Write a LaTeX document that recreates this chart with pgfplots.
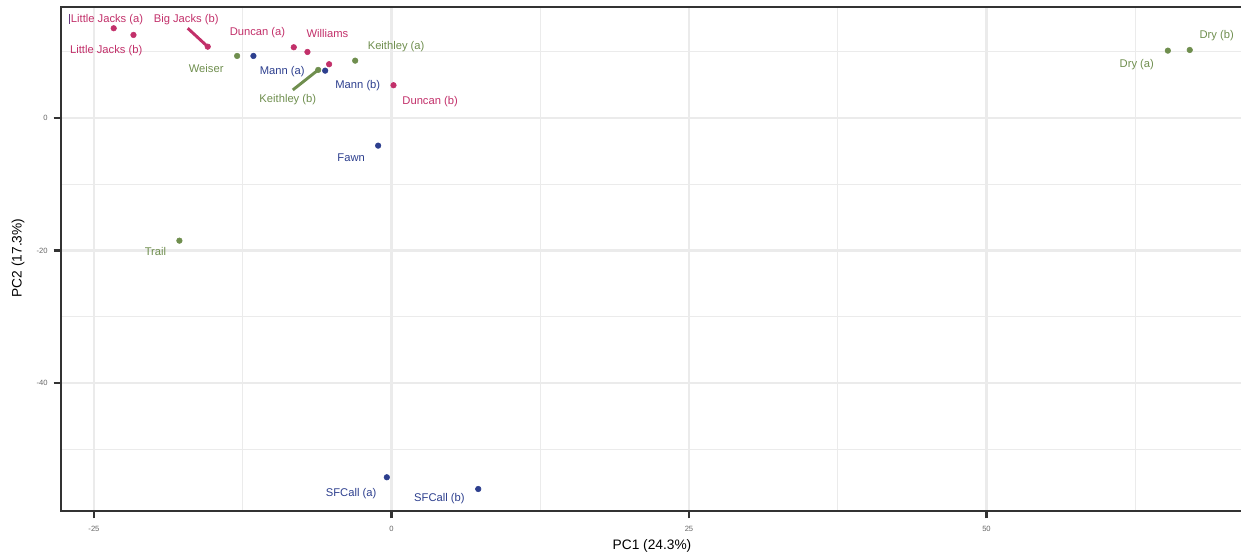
\documentclass[border=0pt]{standalone}
\usepackage{fontspec}
\setmainfont{Liberation Sans}
\usepackage{pgfplots}
\pgfplotsset{compat=1.18}

\definecolor{cRed}{HTML}{C2306A}
\definecolor{cGreen}{HTML}{6F8E4E}
\definecolor{cBlue}{HTML}{2D3F8E}
\definecolor{gridc}{HTML}{EBEBEB}
\definecolor{axc}{HTML}{333333}

\newcommand{\lab}{\fontsize{8.4}{9}\selectfont}

\begin{document}
\begin{tikzpicture}
\begin{axis}[
  at={(0,0)}, anchor=south west,
  scale only axis, width=887.25pt, height=378pt,
  xmin=-27.77, xmax=71.64, ymin=-59.32, ymax=16.75,
  clip=false,
  axis line style={draw=axc, line width=1.5pt},
  xtick={-25,0,25,50}, xticklabels={-25,0,25,50},
  ytick={-40,-20,0}, yticklabels={-40,-20,0},
  minor xtick={-12.5,12.5,37.5,62.5},
  minor ytick={-50,-30,-10,10},
  xtick pos=bottom, ytick pos=left,
  tick align=outside,
  major tick length=5.5pt, minor tick length=0pt,
  major tick style={line width=2pt, draw=axc},
  grid=both,
  major grid style={line width=2pt, draw=gridc},
  minor grid style={line width=1pt, draw=gridc},
  ticklabel style={font=\fontsize{5.7}{6}\selectfont, text=black!60},
  xticklabel style={yshift=-2pt},
  yticklabel style={xshift=-1pt},
]
% segments joining repelled labels to their points
\draw[cRed, line width=2.2pt] (axis cs:-17.12,13.54) -- (axis cs:-15.44,10.76);
\draw[cGreen, line width=2.2pt] (axis cs:-8.29,4.23) -- (axis cs:-6.16,7.25);
\draw[cBlue!60!cRed, line width=0.8pt] (axis cs:-27.06,15.7) -- (axis cs:-27.06,14.19);

% red group
\addplot[only marks, mark=*, mark size=2.1pt, color=cRed] coordinates {
  (-23.34,13.54) (-21.68,12.53) (-15.44,10.76) (-8.21,10.67)
  (-7.06,9.96) (-5.24,8.11) (0.17,4.94)
};
% green group
\addplot[only marks, mark=*, mark size=2.1pt, color=cGreen] coordinates {
  (-12.97,9.36) (-6.16,7.25) (-3.05,8.65) (-17.82,-18.52)
  (65.24,10.16) (67.08,10.26)
};
% blue group
\addplot[only marks, mark=*, mark size=2.1pt, color=cBlue] coordinates {
  (-11.60,9.36) (-5.57,7.14) (-1.12,-4.18) (-0.39,-54.23) (7.29,-56.0)
};

% point labels
\node[font=\lab, text=cRed] at (axis cs:-23.90,14.79) {Little Jacks (a)};
\node[font=\lab, text=cRed] at (axis cs:-23.97,10.11) {Little Jacks (b)};
\node[font=\lab, text=cRed] at (axis cs:-17.25,14.79) {Big Jacks (b)};
\node[font=\lab, text=cRed] at (axis cs:-11.26,12.94) {Duncan (a)};
\node[font=\lab, text=cRed] at (axis cs:-5.38,12.78) {Williams};
\node[font=\lab, text=cRed] at (axis cs:3.25,2.46) {Duncan (b)};
\node[font=\lab, text=cGreen] at (axis cs:0.39,10.76) {Keithley (a)};
\node[font=\lab, text=cGreen] at (axis cs:-15.57,7.40) {Weiser};
\node[font=\lab, text=cGreen] at (axis cs:-8.71,2.72) {Keithley (b)};
\node[font=\lab, text=cGreen] at (axis cs:69.35,12.42) {Dry (b)};
\node[font=\lab, text=cGreen] at (axis cs:62.63,8.0) {Dry (a)};
\node[font=\lab, text=cGreen] at (axis cs:-19.83,-20.08) {Trail};
\node[font=\lab, text=cBlue] at (axis cs:-9.18,6.99) {Mann (a)};
\node[font=\lab, text=cBlue] at (axis cs:-2.83,4.83) {Mann (b)};
\node[font=\lab, text=cBlue] at (axis cs:-3.39,-5.99) {Fawn};
\node[font=\lab, text=cBlue] at (axis cs:-3.39,-56.65) {SFCall (a)};
\node[font=\lab, text=cBlue] at (axis cs:4.03,-57.40) {SFCall (b)};
\end{axis}
% axis titles
\node[font=\fontsize{10.3}{12}\selectfont] at (443.25pt,-26.25pt) {PC1 (24.3\%)};
\node[font=\fontsize{10.3}{12}\selectfont, rotate=90] at (-32.25pt,189.75pt) {PC2 (17.3\%)};
\pgfresetboundingbox
\path[use as bounding box] (-45.75pt,-36pt) rectangle (885pt,383.25pt);
\end{tikzpicture}
\end{document}
